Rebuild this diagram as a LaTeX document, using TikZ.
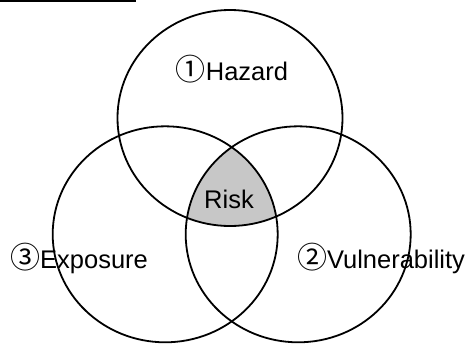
\documentclass[tikz,border=0pt]{standalone}
\usepackage{fontspec}
\setmainfont{Liberation Sans}
\newfontfamily\cjk{Noto Sans CJK JP}
\newcommand{\cdig}[1]{{\cjk\fontsize{30}{30}\selectfont #1}}
\begin{document}
\begin{tikzpicture}[x=1pt,y=-1pt,
  ring/.style={draw=black,line width=1.8pt},
  lab/.style={font=\fontsize{25.5}{30}\selectfont,inner sep=0pt,anchor=base}]
\useasboundingbox (0,0) rectangle (471,343);
\clip (0,0) rectangle (471,343);
\coordinate (H) at (230,118);
\coordinate (E) at (165.2,234.3);
\coordinate (V) at (298.2,234.3);
\coordinate (ls) at (0,0.8);
\coordinate (le) at (136,0.8);
\begin{scope}
  \clip (H) ellipse [x radius=112.5pt,y radius=108pt];
  \clip (E) ellipse [x radius=112.5pt,y radius=108pt];
  \fill[black!22] (V) ellipse [x radius=112.5pt,y radius=108pt];
\end{scope}
\draw[ring] (H) ellipse [x radius=112.5pt,y radius=108pt];
\draw[ring] (E) ellipse [x radius=112.5pt,y radius=108pt];
\draw[ring] (V) ellipse [x radius=112.5pt,y radius=108pt];
\draw[line width=1.5pt] (ls) -- (le);
\node[lab] (hz) at (232,80) {\cdig{①}Hazard};
\node[lab] (rk) at (229,208) {Risk};
\node[lab] (ex) at (79,268) {\cdig{③}Exposure};
\node[lab] (vu) at (381,268) {\cdig{②}Vulnerability};
\end{tikzpicture}
\end{document}
